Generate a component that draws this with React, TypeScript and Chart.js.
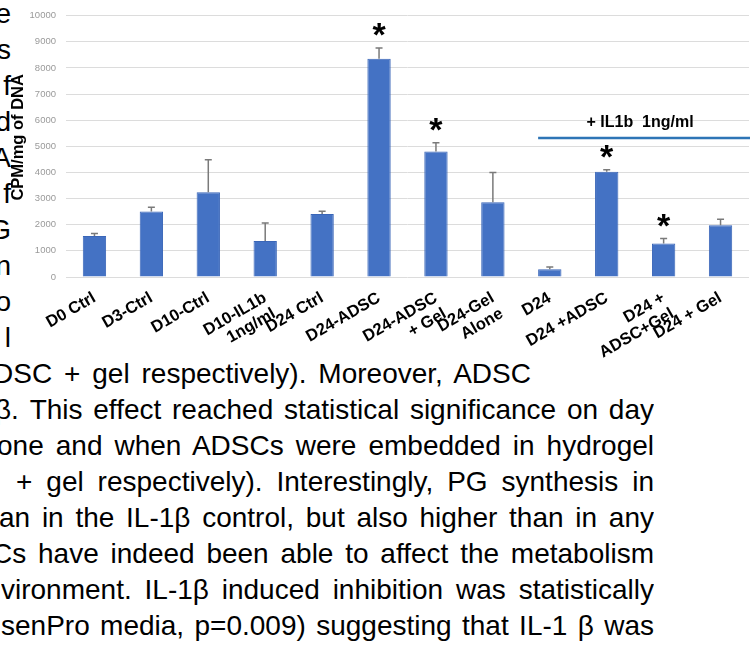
import React, { useEffect, useRef } from 'react';
import { Chart, registerables } from 'chart.js';

Chart.register(...registerables);

// ---- chart data ----
const categories: (string | string[])[] = [
  'D0 Ctrl',
  'D3-Ctrl',
  'D10-Ctrl',
  ['D10-IL1b', '1ng/ml'],
  'D24 Ctrl',
  'D24-ADSC',
  ['D24-ADSC', '+ Gel'],
  ['D24-Gel', 'Alone'],
  'D24',
  'D24 +ADSC',
  ['D24 +', 'ADSC+Gel'],
  'D24 + Gel',
];
const means = [1570, 2510, 3240, 1380, 2410, 8350, 4800, 2860, 300, 4030, 1280, 1980];
const errors = [90, 160, 1250, 690, 110, 410, 340, 1140, 80, 70, 190, 230];
const significant = [false, false, false, false, false, true, true, false, false, true, true, false];
const yMin = 0;
const yMax = 10000;
const yStep = 1000;
const yTitle = 'CPM/mg of DNA';
const treatmentLabel = '+ IL1b  1ng/ml';
const treatmentFirstIndex = 8;
const treatmentLineValue = 5320;

// ---- surrounding document text ----
const marginFragments = ['ke', 's', 'f', 'd', 'A', 'f', 'G', 'n', 'o', 'l'];
const bodyLines = [
  'DSC + gel respectively). Moreover, ADSC',
  'β. This effect reached statistical significance on day',
  'one and when ADSCs were embedded in hydrogel',
  '+ gel respectively). Interestingly, PG synthesis in',
  'an in the IL-1β control, but also higher than in any',
  'Cs have indeed been able to affect the metabolism',
  'vironment. IL-1β induced inhibition was statistically',
  'senPro media, p=0.009) suggesting that IL-1 β was',
];
const bodyLineStarts = [-7, -5, -3, 16, -1, -8, 1, 1];
const bodyLineEnds = [531, 654, 654, 654, 654, 654, 654, 654];

const FONT = "'Liberation Sans', Arial, Helvetica, sans-serif";
const LINE_H = 36;
const FIRST_LINE_CENTER = 15;

const annotationPlugin = {
  id: 'annotations',
  afterDatasetsDraw(chart: any) {
    const ctx = chart.ctx as CanvasRenderingContext2D;
    const meta = chart.getDatasetMeta(0);
    const yScale = chart.scales.y;
    const area = chart.chartArea;
    ctx.save();
    meta.data.forEach((bar: any, i: number) => {
      const x = bar.x;
      const yTop = yScale.getPixelForValue(means[i] + errors[i]);
      const yMean = yScale.getPixelForValue(means[i]);
      ctx.strokeStyle = '#7a7a7a';
      ctx.lineWidth = 1.5;
      ctx.beginPath();
      ctx.moveTo(x, yMean);
      ctx.lineTo(x, yTop);
      ctx.moveTo(x - 3.5, yTop);
      ctx.lineTo(x + 3.5, yTop);
      ctx.stroke();
      if (significant[i]) {
        const size = 34;
        ctx.fillStyle = '#000';
        ctx.font = `bold ${size}px ${FONT}`;
        ctx.textAlign = 'center';
        ctx.textBaseline = 'alphabetic';
        const cy = yTop - 16;
        ctx.fillText('*', x, cy + 0.42 * size);
      }
    });
    const b0 = meta.data[treatmentFirstIndex];
    const x0 = b0.x - b0.width / 2;
    const x1 = area.right + 1;
    const ly = yScale.getPixelForValue(treatmentLineValue);
    ctx.strokeStyle = '#2E75B6';
    ctx.lineWidth = 2.5;
    ctx.beginPath();
    ctx.moveTo(x0, ly);
    ctx.lineTo(x1, ly);
    ctx.stroke();
    ctx.fillStyle = '#000';
    ctx.font = `bold 16px ${FONT}`;
    ctx.textAlign = 'center';
    ctx.textBaseline = 'middle';
    ctx.fillText(treatmentLabel, (x0 + x1) / 2 - 4, ly - 15);

    // y axis title
    ctx.save();
    ctx.translate(18, (area.top + area.bottom) / 2 - 9);
    ctx.rotate(-Math.PI / 2);
    ctx.font = `bold 16.5px ${FONT}`;
    ctx.textAlign = 'center';
    ctx.textBaseline = 'middle';
    ctx.fillText(yTitle, 0, 0);
    ctx.restore();
    ctx.restore();
  },
};

function BarChart() {
  const ref = useRef<HTMLCanvasElement | null>(null);
  useEffect(() => {
    if (!ref.current) return;
    const chart = new Chart(ref.current, {
      type: 'bar',
      data: {
        labels: categories as any,
        datasets: [
          {
            data: means,
            backgroundColor: '#4472C4',
            borderColor: '#3A66B8',
            borderWidth: 1,
            barPercentage: 0.41,
            categoryPercentage: 1,
          },
        ],
      },
      options: {
        responsive: false,
        animation: false,
        layout: { padding: { top: 14, right: 5, bottom: 0, left: 0 } },
        plugins: { legend: { display: false }, tooltip: { enabled: false } },
        scales: {
          x: {
            grid: { display: false },
            border: { display: false },
            ticks: {
              autoSkip: false,
              minRotation: 30,
              maxRotation: 30,
              padding: 4,
              color: '#000',
              font: { family: FONT, size: 16.5, weight: 'bold', lineHeight: 1.1 },
            },
            afterFit: (s: any) => {
              s.height = 93;
            },
          },
          y: {
            min: yMin,
            max: yMax,
            ticks: {
              stepSize: yStep,
              padding: 10,
              color: '#9a9a9a',
              font: { family: FONT, size: 9.5 },
              callback: (v: any) => String(v),
            },
            grid: { color: '#DCDCDC', drawTicks: false, lineWidth: 1 },
            border: { display: false },
            title: { display: false },
            afterFit: (s: any) => {
              s.width = 66;
            },
          },
        },
      } as any,
      plugins: [annotationPlugin],
    });
    return () => chart.destroy();
  }, []);
  return (
    <canvas
      ref={ref}
      width={754}
      height={370}
      style={{ position: 'absolute', left: 0, top: 0, display: 'block', zIndex: 2 }}
    />
  );
}

export default function App() {
  return (
    <div
      style={{
        position: 'absolute',
        left: 0,
        top: 0,
        width: 754,
        height: 646,
        overflow: 'hidden',
        background: '#fff',
        fontFamily: FONT,
        color: '#000',
      }}
    >
      {marginFragments.map((t, i) => (
        <div
          key={'m' + i}
          style={{
            position: 'absolute',
            left: -41,
            width: 52,
            top: FIRST_LINE_CENTER + LINE_H * i - 19,
            height: LINE_H,
            lineHeight: LINE_H + 'px',
            fontSize: 28,
            textAlign: 'right',
            whiteSpace: 'nowrap',
            zIndex: 1,
          }}
        >
          {t}
        </div>
      ))}
      {bodyLines.map((t, i) => {
        const row = marginFragments.length + i;
        return (
          <div
            key={'b' + i}
            style={{
              position: 'absolute',
              left: bodyLineStarts[i],
              width: bodyLineEnds[i] - bodyLineStarts[i],
              top: FIRST_LINE_CENTER + LINE_H * row - 19,
              height: LINE_H,
              lineHeight: LINE_H + 'px',
              fontSize: 28,
              textAlign: 'justify',
              textAlignLast: 'justify' as any,
              overflow: 'hidden',
              zIndex: 1,
            }}
          >
            {t}
          </div>
        );
      })}
      <BarChart />
    </div>
  );
}
